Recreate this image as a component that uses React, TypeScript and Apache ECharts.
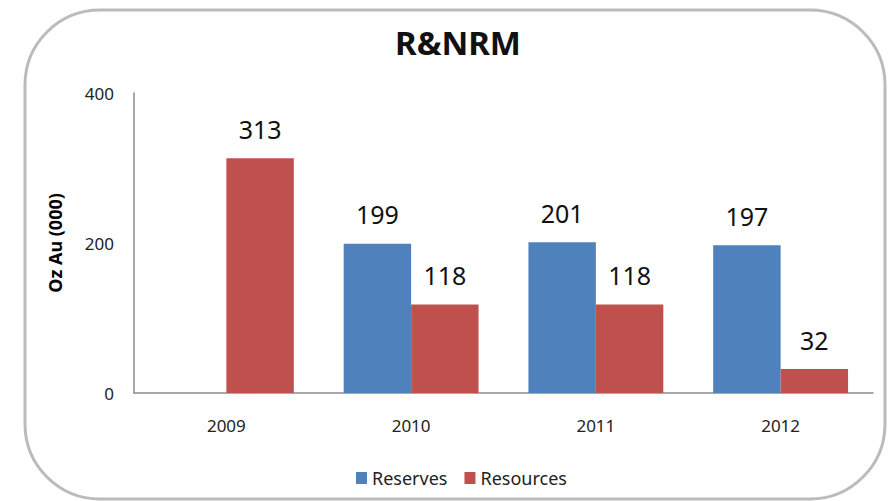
import React, { useEffect, useRef } from "react";
import * as echarts from "echarts";

const categories = ["2009", "2010", "2011", "2012"];
const reserves: (number | null)[] = [null, 199, 201, 197];
const resources: number[] = [313, 118, 118, 32];
const seriesNames = ["Reserves", "Resources"];
const titleText = "R&NRM";
const yAxisName = "Oz Au (000)";

const FONT = "'Noto Sans', sans-serif";

export default function App() {
  const ref = useRef<HTMLDivElement>(null);
  useEffect(() => {
    if (!ref.current) return;
    const chart = echarts.init(ref.current, undefined, { renderer: "svg" });
    const label = {
      show: true,
      position: "top" as const,
      distance: 17,
      fontSize: 25,
      color: "#111",
      fontFamily: FONT,
    };
    chart.setOption({
      animation: false,
      backgroundColor: "#fff",
      textStyle: { fontFamily: FONT },
      graphic: [
        {
          type: "rect",
          shape: { x: 25, y: 10, width: 860, height: 489, r: 75 },
          style: { fill: "none", stroke: "#BBBBBB", lineWidth: 3 },
          silent: true,
        },
      ],
      title: {
        text: titleText,
        left: 453,
        textAlign: "center",
        top: 21,
        textStyle: { fontSize: 33, fontWeight: "bold", color: "#111", fontFamily: FONT },
      },
      legend: {
        data: seriesNames,
        bottom: 9,
        left: 351,
        itemWidth: 11,
        itemHeight: 12,
        itemGap: 17,
        icon: "rect",
        textStyle: { fontSize: 18, color: "#222", fontFamily: FONT },
      },
      grid: { left: 134, right: 17, top: 93, bottom: 108 },
      xAxis: {
        type: "category",
        data: categories,
        axisLine: { lineStyle: { color: "#8c8c8c", width: 1.5 } },
        axisTick: { show: false },
        axisLabel: { fontSize: 17, color: "#222", margin: 24, fontFamily: FONT },
      },
      yAxis: {
        type: "value",
        min: 0,
        max: 400,
        interval: 200,
        name: yAxisName,
        nameLocation: "middle",
        nameGap: 70,
        nameTextStyle: { fontSize: 18, fontWeight: "bold", color: "#000", fontFamily: FONT },
        axisLine: { show: true, lineStyle: { color: "#8c8c8c", width: 1.5 } },
        axisTick: { show: false },
        splitLine: { show: false },
        axisLabel: { fontSize: 17, color: "#222", margin: 20, fontFamily: FONT },
      },
      series: [
        {
          name: seriesNames[0],
          type: "bar",
          data: reserves,
          barGap: "0%",
          barCategoryGap: "27%",
          itemStyle: { color: "#4F81BD" },
          label,
        },
        {
          name: seriesNames[1],
          type: "bar",
          data: resources,
          itemStyle: { color: "#C0504D" },
          label,
        },
      ],
    });
    return () => chart.dispose();
  }, []);
  return <div ref={ref} style={{ width: 890, height: 501, position: "absolute", left: 0, top: 0 }} />;
}
